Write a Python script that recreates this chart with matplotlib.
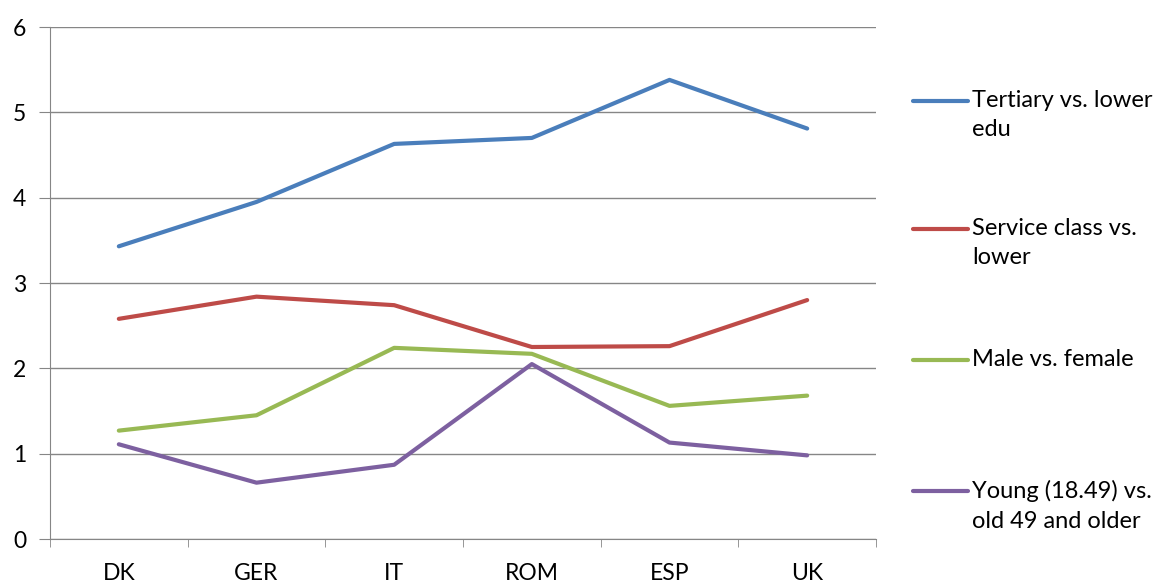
import matplotlib.pyplot as plt
from matplotlib.lines import Line2D
import numpy as np

plt.rcParams['font.family'] = ['Lato', 'DejaVu Sans']

countries = ['DK', 'GER', 'IT', 'ROM', 'ESP', 'UK']
tertiary = [3.43, 3.95, 4.63, 4.70, 5.38, 4.81]
service = [2.58, 2.84, 2.74, 2.25, 2.26, 2.80]
male = [1.27, 1.45, 2.24, 2.17, 1.56, 1.68]
young = [1.11, 0.66, 0.87, 2.05, 1.13, 0.98]

labels = ['Tertiary vs. lower\nedu', 'Service class vs.\nlower',
          'Male vs. female', 'Young (18.49) vs.\nold 49 and older']
colors = ['#4A7EBB', '#BE4B48', '#98B954', '#7D60A0']
series = [tertiary, service, male, young]

fig = plt.figure(figsize=(11.58, 5.82), dpi=100)
ax = fig.add_axes([50/1158, 43/582, 826/1158, 512/582])

x = np.arange(len(countries))
for vals, c in zip(series, colors):
    ax.plot(x, vals, color=c, lw=3.0, solid_capstyle='round')

gray = '#868686'
ax.set_xlim(-0.5, 5.5)
ax.set_ylim(0, 6)
ax.set_yticks(range(7))
ax.yaxis.grid(True, color=gray, lw=1)
ax.set_axisbelow(True)
for s in ['top', 'right']:
    ax.spines[s].set_visible(False)
for s in ['left', 'bottom']:
    ax.spines[s].set_color(gray)
ax.set_xticks(x)
ax.set_xticklabels(countries)
ax.set_xticks(np.arange(-0.5, 6, 1), minor=True)
ax.tick_params(axis='x', which='major', length=0, labelsize=16.5, pad=17)
ax.tick_params(axis='x', which='minor', length=6, color=gray, direction='out')
ax.tick_params(axis='y', length=8, color=gray, labelsize=16.5, pad=9)

# legend drawn by hand so the line sits on the first text line
ys = [101, 229, 360, 491]
for lab, c, yy in zip(labels, colors, ys):
    yf = 1 - yy/582
    fig.add_artist(Line2D([913/1158, 968/1158], [yf, yf], transform=fig.transFigure,
                          color=c, lw=3.0, solid_capstyle='round'))
    fig.text(972/1158, yf + 11/582, lab, fontsize=17, va='top', ha='left', linespacing=1.5)

fig.savefig('out.png', dpi=100)
